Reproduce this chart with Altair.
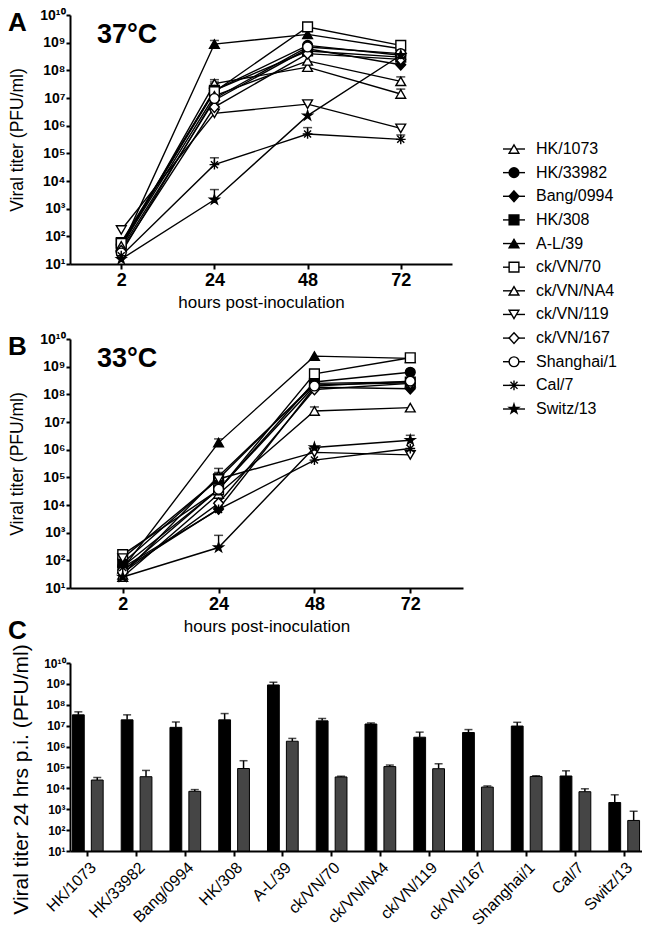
import json
import altair as alt
import pandas as pd

FONT = "Liberation Sans"

strains = ["HK/1073", "HK/33982", "Bang/0994", "HK/308", "A-L/39", "ck/VN/70",
           "ck/VN/NA4", "ck/VN/119", "ck/VN/167", "Shanghai/1", "Cal/7", "Switz/13"]
hours = ["2", "24", "48", "72"]

# marker style per strain
STAR = "M0,-1L0.2245,-0.309L0.951,-0.309L0.363,0.118L0.588,0.809L0,0.382L-0.588,0.809L-0.363,0.118L-0.951,-0.309L-0.2245,-0.309Z"
ASTER = "M-1,0L1,0M0,-1L0,1M-0.72,-0.72L0.72,0.72M-0.72,0.72L0.72,-0.72"
DIAM = "M0,-1.1L1,0L0,1.1L-1,0Z"
shapes = ["triangle-up", "circle", DIAM, "square", "triangle-up", "square",
          "triangle-up", "triangle-down", DIAM, "circle", ASTER, STAR]
fills = ["white", "black", "black", "black", "black", "white",
         "white", "white", "white", "white", "transparent", "black"]

# 37 °C growth (PFU/ml)
titer37_2h = [40, 50, 35, 60, 40, 55, 45, 170, 30, 25, 20, 15]
titer37_24h = [3.3e7, 1.9e7, 8.3e6, 1.9e7, 8.9e8, 1.7e7, 1.2e7, 2.8e6, 4.7e6, 9.6e6, 3.9e4, 2.1e3]
titer37_48h = [1.3e8, 8e8, 6e8, 5e8, 2e9, 3.7e9, 2.2e8, 6e6, 4e8, 7e8, 5e5, 2.3e6]
titer37_72h = [1.4e7, 3.5e8, 1.6e8, 3e8, 6e8, 8e8, 4e7, 8e5, 2.5e8, 4e8, 3.2e5, 3.5e8]
err37_24h = [4.6e7, 3.3e7, 1.5e7, 3.8e7, 1.2e9, 2.2e7, 1.35e7, 4.9e6, 6.5e6, 1.45e7, 6.9e4, 4.9e3]
err37_48h = [None, None, None, None, None, None, None, 7.5e6, None, None, 8.5e5, None]
err37_72h = [2.1e7, None, None, None, None, None, 5.8e7, None, None, None, 4.6e5, None]

# 33 °C growth (PFU/ml)
titer33_2h = [25, 60, 45, 80, 50, 160, 30, 120, 35, 40, 55, 25]
titer33_24h = [2.5e4, 3.6e4, 7.2e3, 8.9e4, 1.8e6, 3.5e4, 1.1e5, 8.7e4, 1.15e4, 3.7e4, 6.9e3, 2.9e2]
titer33_48h = [2.5e7, 2.8e8, 1.8e8, 2.5e8, 2.4e9, 5.5e8, 2.2e8, 8e5, 1.5e8, 2e8, 4.2e5, 1.2e6]
titer33_72h = [3.3e7, 6.3e8, 1.6e8, 2.8e8, 2e9, 2.1e9, 2.6e8, 6.5e5, 2.5e8, 3e8, 1.1e6, 2.2e6]
err33_24h = [3.3e4, 7.2e4, 8.7e3, 2.1e5, 2.45e6, 3.8e4, 1.3e5, 1.5e5, 1.3e4, 4e4, 9.5e3, 8e2]
err33_48h = [3.5e7, None, None, None, None, None, None, None, None, None, None, None]
err33_72h = [None, None, None, None, None, None, None, None, None, None, None, 3.3e6]

y_ticks = [10.0 ** k for k in range(1, 11)]
sup = ["", "¹", "²", "³", "⁴", "⁵", "⁶", "⁷", "⁸", "⁹", "¹⁰"]
label_expr = "'10' + " + json.dumps(sup, ensure_ascii=False) + "[round(log(datum.value) / LN10)]"

shape_scale = alt.Scale(domain=strains, range=shapes)
fill_scale = alt.Scale(domain=strains, range=fills)
log_scale = alt.Scale(type="log", domain=[10, 1e10], nice=False)


def long_df(cols, errs):
    rows = []
    for h, vals, ers in zip(hours, cols, errs):
        for i, s in enumerate(strains):
            e = ers[i] if ers is not None else None
            rows.append({"strain": s, "hour": h, "titer": vals[i],
                         "err": e if e is not None else vals[i],
                         "has_err": e is not None})
    return pd.DataFrame(rows)


def label_layer(text, x, y, size):
    return alt.Chart(pd.DataFrame({"t": [text]})).mark_text(
        align="left", baseline="alphabetic", fontSize=size, fontWeight="bold", font=FONT,
        color="black").encode(text="t:N", x=alt.value(x), y=alt.value(y))


def line_panel(cols, errs, width, height, letter, temp, with_legend):
    df = long_df(cols, errs)
    x = alt.X("hour:N", sort=hours, scale=alt.Scale(type="point", padding=0.55),
              axis=alt.Axis(labelAngle=0, title="hours post-inoculation", labelFontSize=18,
                            labelFontWeight="bold", titleFontSize=17, labelPadding=2,
                            titlePadding=5, tickSize=5))
    yaxis = alt.Axis(values=y_ticks, labelExpr=label_expr, title="Viral titer (PFU/ml)",
                     labelFontSize=14, labelFontWeight="bold", titleFontSize=17.5,
                     labelPadding=1, tickSize=4, titlePadding=13)
    y = alt.Y("titer:Q", scale=log_scale, axis=yaxis)
    base = alt.Chart(df)
    lines = base.mark_line(color="black", strokeWidth=1.4).encode(x=x, y=y, detail="strain:N")
    eb = base.transform_filter("datum.has_err")
    rules = eb.mark_rule(color="black", strokeWidth=1.4).encode(x=x, y=y, y2="err:Q")
    caps = eb.mark_tick(color="black", thickness=1.5, size=9).encode(
        x=x, y=alt.Y("err:Q", scale=log_scale, axis=yaxis))
    pts = base.mark_point(filled=True, size=95, stroke="black", strokeWidth=1.4, opacity=1).encode(
        x=x, y=y,
        shape=alt.Shape("strain:N", scale=shape_scale, legend=None),
        fill=alt.Fill("strain:N", scale=fill_scale, legend=None))
    tlabel = label_layer(temp, 27, 28, 27)
    letter_lbl = label_layer(letter, -62, 16, 26)
    main = alt.layer(lines, rules, caps, pts, tlabel, letter_lbl)
    if with_legend:
        ldf = pd.DataFrame({"strain": strains})
        ly = alt.Y("strain:N", sort=strains,
                   scale=alt.Scale(type="point", range=[134, 394], padding=0), axis=None)
        lbase = alt.Chart(ldf)
        lrule = lbase.mark_rule(color="black", strokeWidth=1.4).encode(
            y=ly, x=alt.value(433), x2=alt.value(455))
        lpt = lbase.mark_point(filled=True, size=95, stroke="black", strokeWidth=1.4, opacity=1).encode(
            y=ly, x=alt.value(444),
            shape=alt.Shape("strain:N", scale=shape_scale, legend=None),
            fill=alt.Fill("strain:N", scale=fill_scale, legend=None))
        ltxt = lbase.mark_text(align="left", baseline="middle", fontSize=16, font=FONT,
                               color="black").encode(y=ly, x=alt.value(466), text="strain:N")
        leg = alt.layer(lrule, lpt, ltxt)
        return alt.layer(main, leg).resolve_scale(y="independent").properties(
            width=width, height=height)
    return main.properties(width=width, height=height)


A = line_panel([titer37_2h, titer37_24h, titer37_48h, titer37_72h],
               [None, err37_24h, err37_48h, err37_72h], 382, 249, "A", "37°C", True)
B = line_panel([titer33_2h, titer33_24h, titer33_48h, titer33_72h],
               [None, err33_24h, err33_48h, err33_72h], 393, 249, "B", "33°C", False)

# Panel C: 24 h titers at both temperatures
bar_rows = []
for i, s in enumerate(strains):
    bar_rows.append({"strain": s, "temp": "37", "titer": titer37_24h[i], "err": err37_24h[i]})
    bar_rows.append({"strain": s, "temp": "33", "titer": titer33_24h[i], "err": err33_24h[i]})
bdf = pd.DataFrame(bar_rows)

cx = alt.X("strain:N", sort=strains, scale=alt.Scale(paddingInner=0.37, paddingOuter=0.05),
           axis=alt.Axis(title=None, labelAngle=-45, labelFontSize=16, labelPadding=3, tickSize=5))
cxo = alt.XOffset("temp:N", sort=["37", "33"], scale=alt.Scale(paddingInner=0.375, paddingOuter=0))
cyaxis = alt.Axis(values=y_ticks, labelExpr=label_expr, title="Viral titer 24 hrs p.i. (PFU/ml)",
                  labelFontSize=12, labelFontWeight="bold", titleFontSize=21, labelPadding=1,
                  tickSize=4, titlePadding=12, titleY=116)
cy = alt.Y("titer:Q", scale=log_scale, axis=cyaxis)
cbase = alt.Chart(bdf)
bars = cbase.mark_bar(stroke="black", strokeWidth=1).encode(
    x=cx, xOffset=cxo, y=cy, y2=alt.datum(10),
    color=alt.Color("temp:N", scale=alt.Scale(domain=["37", "33"], range=["black", "#454545"]), legend=None))
crules = cbase.mark_rule(color="black", strokeWidth=1.5).encode(x=cx, xOffset=cxo, y=cy, y2="err:Q")
ccaps = cbase.mark_tick(color="black", thickness=1.5, size=8).encode(
    x=cx, xOffset=cxo, y=alt.Y("err:Q", scale=log_scale, axis=cyaxis))
C = alt.layer(crules, ccaps, bars, label_layer("C", -62, -24, 26)).properties(width=572, height=188)

chart = alt.vconcat(A, B, C, spacing=75, bounds="flush").properties(padding=0).configure_view(
    stroke=None
).configure_axis(
    domainColor="black", domainWidth=2, tickColor="black", tickWidth=2,
    labelColor="black", titleColor="black", labelFont=FONT, titleFont=FONT,
    grid=False, titleFontWeight="normal"
)

chart.save("out.html", embed_options={"renderer": "svg", "actions": False})
